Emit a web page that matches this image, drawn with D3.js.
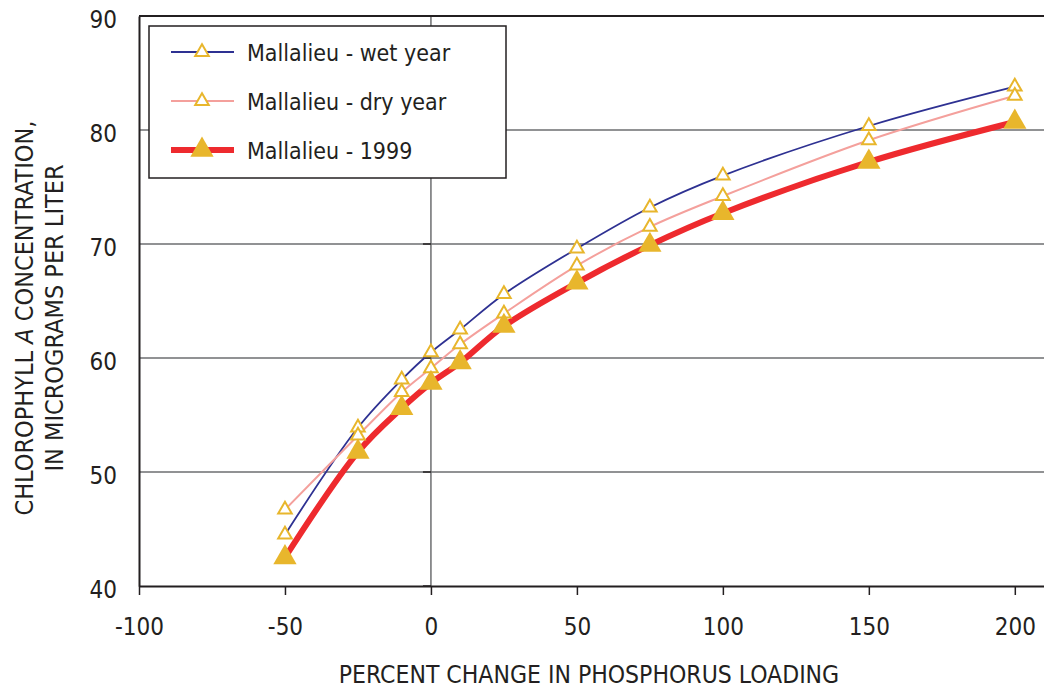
<!DOCTYPE html>
<html>
<head>
<meta charset="utf-8">
<script src="https://cdn.jsdelivr.net/npm/d3@7"></script>
<style>
  body { margin: 0; background: #fff; }
  text { font-family: "DejaVu Sans Condensed", "Liberation Sans Narrow", sans-serif; fill: #231f20; }
</style>
</head>
<body>
<div id="chart"></div>
<script>
// percent change in phosphorus loading
var change = [-50, -25, -10, 0, 10, 25, 50, 75, 100, 150, 200];
// chlorophyll a, micrograms per liter
var wetYear = [44.5, 53.9, 58.1, 60.5, 62.5, 65.6, 69.6, 73.2, 76.0, 80.35, 83.8];
var dryYear = [46.7, 53.2, 57.0, 59.1, 61.2, 63.9, 68.1, 71.5, 74.2, 79.1, 83.0];
var year1999 = [42.5, 51.75, 55.6, 57.8, 59.6, 62.8, 66.6, 69.9, 72.7, 77.2, 80.7];
var seriesNames = ["Mallalieu - wet year", "Mallalieu - dry year", "Mallalieu - 1999"];
var xTicks = [-100, -50, 0, 50, 100, 150, 200];
var yTicks = [40, 50, 60, 70, 80, 90];

var W = 1044, H = 688;
var margin = {top: 16, right: 0, bottom: 102, left: 139};
var width = W - margin.left - margin.right,
    height = H - margin.top - margin.bottom;

var gold = "#e8b62c";

var svg = d3.select("#chart").append("svg")
    .attr("width", W)
    .attr("height", H)
  .append("g")
    .attr("transform", "translate(" + margin.left + "," + margin.top + ")");

var x = d3.scaleLinear().domain([-100, 210]).range([0, width]);
var y = d3.scaleLinear().domain([40, 90]).range([height, 0]);

// horizontal gridlines
svg.selectAll(".grid")
    .data(yTicks.filter(function(d) { return d > 40 && d < 90; }))
    .join("line")
    .attr("x1", 0).attr("x2", width)
    .attr("y1", function(d) { return y(d); })
    .attr("y2", function(d) { return y(d); })
    .attr("stroke", "#6d6e70")
    .attr("stroke-width", 1.5);

// vertical line at zero
svg.append("line")
    .attr("x1", x(0)).attr("x2", x(0))
    .attr("y1", 0).attr("y2", height)
    .attr("stroke", "#6d6e70")
    .attr("stroke-width", 1.5);
svg.selectAll(".zt")
    .data(yTicks)
    .join("line")
    .attr("x1", x(0) - 8).attr("x2", x(0))
    .attr("y1", function(d) { return y(d); })
    .attr("y2", function(d) { return y(d); })
    .attr("stroke", "#231f20")
    .attr("stroke-width", 1.5);

// frame top
svg.append("line")
    .attr("x1", 0).attr("x2", width).attr("y1", 0).attr("y2", 0)
    .attr("stroke", "#231f20").attr("stroke-width", 2);

// X axis
var xAxis = svg.append("g")
    .attr("transform", "translate(0," + height + ")")
    .call(d3.axisBottom(x).tickValues(xTicks).tickSize(9).tickPadding(23).tickSizeOuter(0)
        .tickFormat(function(d) { return String(d); }));
xAxis.select(".domain").attr("stroke", "#231f20").attr("stroke-width", 2);
xAxis.selectAll(".tick line").attr("stroke", "#231f20").attr("stroke-width", 1.5);
xAxis.selectAll("text").style("font-size", "24px").attr("fill", "#231f20");

// Y axis
var yAxis = svg.append("g")
    .call(d3.axisLeft(y).tickValues(yTicks).tickSize(0).tickPadding(22).tickSizeOuter(0));
yAxis.select(".domain").attr("stroke", "#231f20").attr("stroke-width", 2);
yAxis.selectAll("text").style("font-size", "24px").attr("dy", "0.47em").attr("fill", "#231f20");

// lines
var line = d3.line()
    .x(function(d) { return x(d[0]); })
    .y(function(d) { return y(d[1]); })
    .curve(d3.curveCatmullRom.alpha(0.5));

var series = [
  {name: seriesNames[0], values: wetYear, color: "#2e3192", w: 1.8, filled: false},
  {name: seriesNames[1], values: dryYear, color: "#f4a09c", w: 2, filled: false},
  {name: seriesNames[2], values: year1999, color: "#ee2a2e", w: 6, filled: true}
];

var openTri = d3.symbol().type(d3.symbolTriangle).size(80);
var fullTri = d3.symbol().type(d3.symbolTriangle).size(235);

series.forEach(function(s) {
  var pts = change.map(function(c, i) { return [c, s.values[i]]; });
  svg.append("path")
      .attr("d", line(pts))
      .attr("fill", "none")
      .attr("stroke", s.color)
      .attr("stroke-width", s.w);
  s.pts = pts;
});

series.forEach(function(s) {
  svg.selectAll(null)
      .data(s.pts)
      .join("path")
      .attr("transform", function(d) { return "translate(" + x(d[0]) + "," + y(d[1]) + ")"; })
      .attr("d", s.filled ? fullTri : openTri)
      .attr("fill", s.filled ? gold : "#fff")
      .attr("stroke", s.filled ? "none" : gold)
      .attr("stroke-width", 2);
});

// legend
var lg = svg.append("g").attr("transform", "translate(" + (149 - margin.left) + "," + (26 - margin.top) + ")");
lg.append("rect")
    .attr("width", 357).attr("height", 152)
    .attr("fill", "#fff")
    .attr("stroke", "#231f20")
    .attr("stroke-width", 1.5);
series.forEach(function(s, i) {
  var cy = 26 + i * 49;
  lg.append("line")
      .attr("x1", 22).attr("x2", 85)
      .attr("y1", cy).attr("y2", cy)
      .attr("stroke", s.color)
      .attr("stroke-width", s.w);
  lg.append("path")
      .attr("transform", "translate(53," + cy + ")")
      .attr("d", s.filled ? fullTri : openTri)
      .attr("fill", s.filled ? gold : "#fff")
      .attr("stroke", s.filled ? "none" : gold)
      .attr("stroke-width", 2);
  lg.append("text")
      .attr("x", 98).attr("y", cy + 9)
      .style("font-size", "23px")
      .text(s.name);
});

// X axis label
svg.append("text")
    .attr("text-anchor", "middle")
    .attr("x", 589 - margin.left)
    .attr("y", height + 97)
    .style("font-size", "24.5px")
    .text("PERCENT CHANGE IN PHOSPHORUS LOADING");

// Y axis label
var yl = svg.append("text")
    .attr("text-anchor", "middle")
    .attr("transform", "translate(" + (33 - margin.left) + "," + (318 - margin.top) + ") rotate(-90)")
    .style("font-size", "25px");
yl.append("tspan").text("CHLOROPHYLL ");
yl.append("tspan").style("font-style", "italic").text("A");
yl.append("tspan").text(" CONCENTRATION,");
svg.append("text")
    .attr("text-anchor", "middle")
    .attr("transform", "translate(" + (63 - margin.left) + "," + (318 - margin.top) + ") rotate(-90)")
    .style("font-size", "25px")
    .text("IN MICROGRAMS PER LITER");
</script>
</body>
</html>
